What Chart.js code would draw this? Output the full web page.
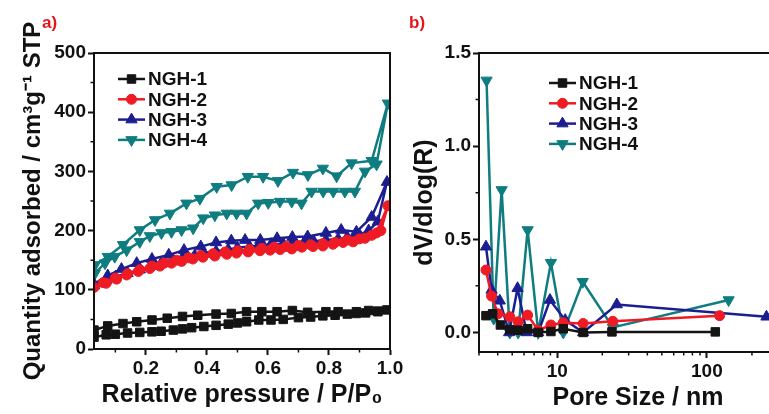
<!DOCTYPE html>
<html>
<head>
<meta charset="utf-8">
<script src="https://cdn.jsdelivr.net/npm/chart.js@4.4.0/dist/chart.umd.min.js"></script>
<style>
  html, body { margin: 0; padding: 0; background: #fff; width: 769px; height: 414px; overflow: hidden; }
  #wrap { position: relative; width: 769px; height: 414px; overflow: hidden; }
  canvas { position: absolute; top: 0; }
  #chartA { left: 0; }
  #chartB { left: 400px; }
  .tag { position: absolute; color: #e8141c; font: bold 17px "Liberation Sans", Arial, sans-serif; }
</style>
</head>
<body>
<div id="wrap">
  <canvas id="chartA" width="430" height="414"></canvas>
  <canvas id="chartB" width="420" height="414"></canvas>
  <div class="tag" style="left:42px;top:13px">a)</div>
  <div class="tag" style="left:409px;top:13px">b)</div>
</div>
<script>
const FONT = '"Liberation Sans", Arial, sans-serif';

const seriesNames = ['NGH-1', 'NGH-2', 'NGH-3', 'NGH-4'];
const seriesColors = ['#141414', '#ee1b24', '#1d1d92', '#0f7d80'];
const markers = ['rect', 'circle', 'triangle', 'triangle'];
const markerTurn = [0, 0, 0, 180];
const markerSize = [6, 5, 6.5, 6.5];

// a) N2 isotherms, adsorption branch then desorption branch
const n1AdsP = [0.03, 0.07, 0.10, 0.14, 0.18, 0.22, 0.25, 0.29, 0.32, 0.35, 0.39, 0.43, 0.47, 0.50, 0.53, 0.57, 0.61, 0.65, 0.70, 0.74, 0.78, 0.82, 0.86, 0.89, 0.92, 0.96, 0.99];
const n1AdsV = [20, 24, 25, 27, 28, 29, 30, 32, 34, 36, 38, 40, 42, 44, 46, 49, 49, 50, 53, 54, 56, 57, 59, 60, 61, 63, 66];
const n1DesP = [0.96, 0.93, 0.89, 0.83, 0.79, 0.73, 0.68, 0.63, 0.58, 0.53, 0.48, 0.43, 0.37, 0.32, 0.27, 0.22, 0.17, 0.125, 0.075, 0.03];
const n1DesV = [64, 65, 63, 63, 63, 62, 65, 63, 63, 63, 60, 59, 57, 55, 52, 49, 46, 43, 39, 32];

const n2AdsP = [0.03, 0.07, 0.104, 0.137, 0.175, 0.213, 0.246, 0.284, 0.317, 0.354, 0.387, 0.426, 0.465, 0.497, 0.535, 0.574, 0.607, 0.64, 0.678, 0.711, 0.748, 0.78, 0.813, 0.846, 0.879, 0.918, 0.956, 0.993];
const n2AdsV = [104, 111, 118, 125, 131, 136, 140, 145, 148, 152, 155, 157, 160, 162, 164, 166, 167, 168, 169, 172, 173, 174, 177, 180, 181, 187, 196, 242];
const n2DesP = [0.97, 0.94, 0.90, 0.86, 0.82, 0.78, 0.74, 0.70, 0.66, 0.62, 0.58, 0.54, 0.50, 0.46, 0.42, 0.38, 0.34, 0.30, 0.26, 0.22, 0.18, 0.14, 0.10, 0.06];
const n2DesV = [200, 192, 186, 184, 180, 178, 176, 175, 173, 172, 170, 168, 166, 164, 161, 158, 154, 150, 145, 140, 134, 127, 120, 112];

const n3AdsP = [0.03, 0.07, 0.10, 0.14, 0.18, 0.22, 0.25, 0.29, 0.32, 0.36, 0.39, 0.43, 0.47, 0.50, 0.54, 0.57, 0.61, 0.65, 0.68, 0.72, 0.75, 0.79, 0.83, 0.86, 0.90, 0.93, 0.96, 0.99];
const n3AdsV = [107, 116, 122, 128, 134, 140, 145, 150, 154, 158, 162, 165, 168, 171, 173, 175, 177, 178, 180, 181, 182, 184, 186, 189, 193, 200, 215, 282];
const n3DesP = [0.94, 0.89, 0.84, 0.79, 0.73, 0.68, 0.63, 0.575, 0.525, 0.48, 0.43, 0.38, 0.325, 0.275, 0.22, 0.17, 0.12, 0.075, 0.03];
const n3DesV = [223, 198, 201, 196, 190, 189, 187, 184, 184, 183, 180, 173, 167, 159, 152, 145, 135, 124, 110];

const n4AdsP = [0.033, 0.066, 0.098, 0.137, 0.18, 0.213, 0.251, 0.284, 0.317, 0.355, 0.388, 0.426, 0.465, 0.497, 0.53, 0.568, 0.601, 0.639, 0.678, 0.71, 0.743, 0.781, 0.814, 0.852, 0.885, 0.918, 0.956, 0.993];
const n4AdsV = [128, 145, 156, 167, 181, 191, 196, 198, 201, 204, 221, 226, 229, 229, 229, 246, 247, 249, 249, 246, 266, 266, 266, 266, 266, 300, 312, 415];
const n4DesP = [0.94, 0.874, 0.825, 0.78, 0.731, 0.682, 0.633, 0.584, 0.534, 0.481, 0.432, 0.377, 0.333, 0.279, 0.23, 0.18, 0.125, 0.075, 0.033];
const n4DesV = [318, 314, 292, 305, 294, 298, 284, 291, 291, 277, 274, 254, 246, 229, 218, 201, 176, 156, 142];

const isoTicksX = [0.2, 0.4, 0.6, 0.8, 1.0];
const isoMinorX = [0.1, 0.3, 0.5, 0.7, 0.9];
const isoTicksY = [0, 100, 200, 300, 400, 500];
const isoMinorY = [50, 150, 250, 350, 450];

// b) pore size distribution
const n1PoreX = [3.34, 3.7, 4.17, 4.82, 5.48, 6.34, 7.46, 9.07, 10.97, 14.9, 23.2, 113.8];
const n1PoreY = [0.09, 0.10, 0.04, 0.015, 0.012, 0.02, 0.0, 0.005, 0.02, 0.0, 0.003, 0.003];
const n2PoreX = [3.34, 3.64, 4.02, 4.82, 5.48, 6.34, 7.46, 9.07, 10.97, 14.9, 23.5, 121.6];
const n2PoreY = [0.335, 0.195, 0.10, 0.084, 0.057, 0.093, 0.012, 0.04, 0.052, 0.048, 0.06, 0.09];
const n3PoreX = [3.34, 3.64, 4.13, 4.77, 5.43, 6.24, 7.46, 8.94, 11.3, 14.9, 25, 250];
const n3PoreY = [0.46, 0.228, 0.17, 0.0, 0.237, 0.0, 0.0, 0.174, 0.066, 0.0, 0.15, 0.084];
const n4PoreX = [3.37, 3.76, 4.25, 4.82, 5.48, 6.34, 7.46, 9.07, 10.97, 14.8, 23.5, 139.7];
const n4PoreY = [1.353, 0.075, 0.765, 0.0, 0.0, 0.55, 0.0, 0.374, 0.0, 0.272, 0.027, 0.174];

const poreTicksX = [10, 100];
const poreMinorX = [3, 4, 5, 6, 7, 8, 9, 20, 30, 40, 50, 60, 70, 80, 90, 200, 300];
const poreTicksY = [0, 0.5, 1.0, 1.5];
const poreMinorY = [0.25, 0.75, 1.25];

Chart.defaults.font.family = FONT;
Chart.defaults.color = '#111';

function lineSet(i, xs, ys) {
    return {
        label: seriesNames[i],
        data: xs.map((x, k) => ({ x: x, y: ys[k] })),
        borderColor: seriesColors[i],
        backgroundColor: seriesColors[i],
        borderWidth: 2.5,
        pointStyle: markers[i],
        rotation: markerTurn[i],
        pointRadius: markerSize[i],
        pointBorderWidth: 1,
        tension: 0,
        fill: false
    };
}

function loopSet(i, adsP, adsV, desP, desV) {
    return lineSet(i, adsP.concat(desP), adsV.concat(desV));
}

// box frame, minor ticks and the inset legend
const boxFrame = {
    id: 'boxFrame',
    afterDraw(chart, args, opts) {
        const { ctx, chartArea: a, scales } = chart;
        ctx.save();
        ctx.strokeStyle = '#111';
        ctx.lineWidth = 2;
        ctx.strokeRect(a.left, a.top, a.right - a.left, a.bottom - a.top);
        ctx.lineWidth = 1.5;
        ctx.beginPath();
        opts.minorX.forEach(v => {
            const px = scales.x.getPixelForValue(v);
            if (px < a.left || px > a.right) return;
            ctx.moveTo(px, a.bottom);
            ctx.lineTo(px, a.bottom + 3.5);
        });
        opts.minorY.forEach(v => {
            const py = scales.y.getPixelForValue(v);
            ctx.moveTo(a.left, py);
            ctx.lineTo(a.left - 3.5, py);
        });
        ctx.stroke();

        ctx.font = 'bold 19px ' + FONT;
        ctx.textBaseline = 'middle';
        chart.data.datasets.forEach((ds, i) => {
            const x = opts.legendX;
            const y = opts.legendY + i * opts.legendGap;
            ctx.strokeStyle = ds.borderColor;
            ctx.lineWidth = 2.5;
            ctx.beginPath();
            ctx.moveTo(x, y);
            ctx.lineTo(x + 27, y);
            ctx.stroke();
            ctx.fillStyle = ds.backgroundColor;
            ctx.lineWidth = 1;
            Chart.helpers.drawPoint(ctx, {
                pointStyle: ds.pointStyle,
                radius: ds.pointRadius,
                rotation: ds.rotation,
                borderWidth: 1
            }, x + 13.5, y);
            ctx.fillStyle = '#111';
            ctx.fillText(ds.label, x + 30, y + 1);
        });
        ctx.restore();
    }
};

function axisBits(tickList, fmt) {
    return {
        afterBuildTicks: s => { s.ticks = tickList.map(v => ({ value: v })); },
        grid: { display: true, drawOnChartArea: false, drawTicks: true, tickLength: 6, tickWidth: 2, tickColor: '#111' },
        border: { display: true, color: '#111', width: 2 },
        ticks: { font: { size: 19, weight: 'bold' }, color: '#111', padding: 2, autoSkip: false, maxRotation: 0, callback: fmt }
    };
}

new Chart(document.getElementById('chartA'), {
    type: 'line',
    data: {
        datasets: [
            loopSet(0, n1AdsP, n1AdsV, n1DesP, n1DesV),
            loopSet(1, n2AdsP, n2AdsV, n2DesP, n2DesV),
            loopSet(2, n3AdsP, n3AdsV, n3DesP, n3DesV),
            loopSet(3, n4AdsP, n4AdsV, n4DesP, n4DesV)
        ]
    },
    options: {
        responsive: false,
        animation: false,
        devicePixelRatio: 1,
        layout: { padding: { top: 53, right: 40, left: 0, bottom: 0 } },
        plugins: {
            legend: { display: false },
            tooltip: { enabled: false },
            boxFrame: { minorX: isoMinorX, minorY: isoMinorY, legendX: 118, legendY: 79, legendGap: 20.3 }
        },
        scales: {
            x: Object.assign(axisBits(isoTicksX, v => v.toFixed(1)), {
                type: 'linear', min: 0.03, max: 1.0,
                afterFit: s => { s.height = 65; },
                title: { display: true, text: 'Relative pressure / P/P₀', font: { size: 25, weight: 'bold' }, color: '#111', padding: { top: 0, bottom: 4 } }
            }),
            y: Object.assign(axisBits(isoTicksY, v => String(v)), {
                type: 'linear', min: 0, max: 500,
                afterFit: s => { s.width = 94; },
                title: { display: true, text: 'Quantity adsorbed / cm³g⁻¹ STP', font: { size: 24, weight: 'bold' }, color: '#111', padding: { top: 19, bottom: 0 } }
            })
        }
    },
    plugins: [boxFrame]
});

new Chart(document.getElementById('chartB'), {
    type: 'line',
    data: {
        datasets: [
            lineSet(0, n1PoreX, n1PoreY),
            lineSet(1, n2PoreX, n2PoreY),
            lineSet(2, n3PoreX, n3PoreY),
            lineSet(3, n4PoreX, n4PoreY)
        ]
    },
    options: {
        responsive: false,
        animation: false,
        devicePixelRatio: 1,
        layout: { padding: { top: 53, right: 23, left: 0, bottom: 0 } },
        plugins: {
            legend: { display: false },
            tooltip: { enabled: false },
            boxFrame: { minorX: poreMinorX, minorY: poreMinorY, legendX: 149, legendY: 83, legendGap: 20.3 }
        },
        scales: {
            x: Object.assign(axisBits(poreTicksX, v => String(v)), {
                type: 'logarithmic', min: 3, max: 400,
                afterFit: s => { s.height = 62; },
                title: { display: true, text: 'Pore Size / nm', font: { size: 25, weight: 'bold' }, color: '#111', padding: { top: 0, bottom: 1 } }
            }),
            y: Object.assign(axisBits(poreTicksY, v => v.toFixed(1)), {
                type: 'linear', min: -0.105, max: 1.5,
                afterFit: s => { s.width = 79; },
                title: { display: true, text: 'dV/dlog(R)', font: { size: 25, weight: 'bold' }, color: '#111', padding: { top: 10, bottom: 0 } }
            })
        }
    },
    plugins: [boxFrame]
});
</script>
</body>
</html>
